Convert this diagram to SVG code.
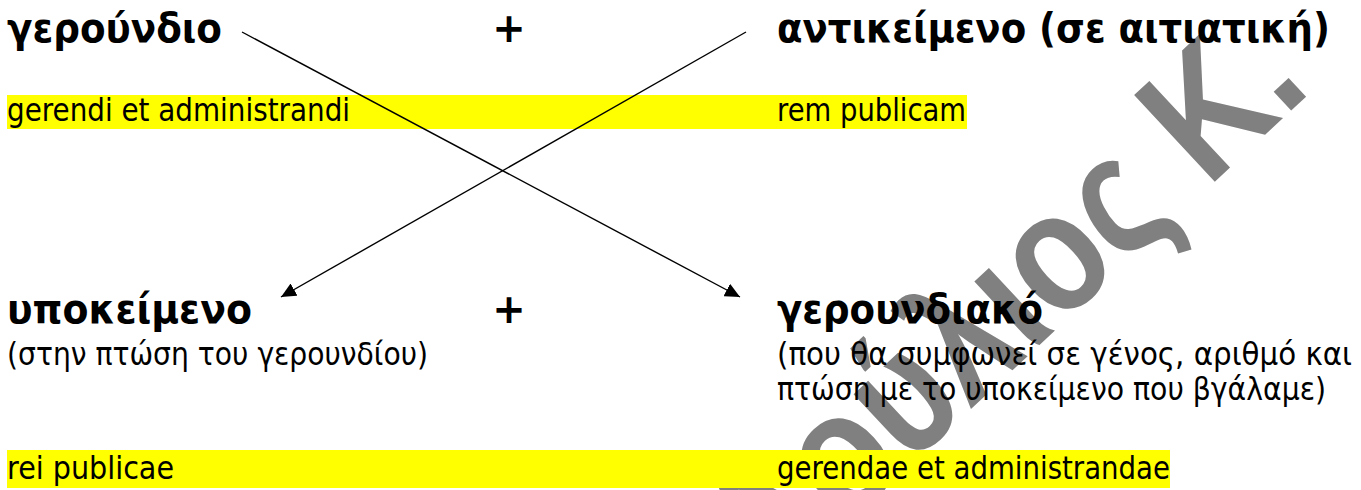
<svg xmlns="http://www.w3.org/2000/svg" width="1361" height="490" viewBox="0 0 1361 490">
<style>
.b{font-family:"DejaVu Sans","Liberation Sans",sans-serif;font-weight:bold;font-size:40px;fill:#000}
.n{font-family:"DejaVu Sans","Liberation Sans",sans-serif;font-size:32px;fill:#000}
.hl{fill:#ffff00}
.wm{font-family:"Liberation Sans",Arial,sans-serif;font-weight:bold;font-size:172px;fill:#808080}
.conn{stroke:#000;stroke-width:1.4;fill:none}
</style>
<defs>
<marker id="ah" viewBox="0 0 15 14" refX="15" refY="7" markerWidth="15" markerHeight="14" orient="auto" markerUnits="userSpaceOnUse">
<path d="M0,0 L15,7 L0,14 z" fill="#000"/>
</marker>
</defs>
<rect width="1361" height="490" fill="#fff"/>
<g id="watermark" transform="translate(1223,174) rotate(-43) scale(0.84,1)">
<text class="wm" x="-73" y="0" text-anchor="end">Δούλιος</text>
<text class="wm" x="-25" y="0">Κ.</text>
</g>
<g id="bands">
<rect class="hl" x="7" y="95" width="960" height="34"/>
<rect class="hl" x="7" y="450" width="1163" height="38"/>
</g>
<g id="n-gerundio"><text class="b" x="7" y="42" textLength="215" lengthAdjust="spacingAndGlyphs">γερούνδιο</text></g>
<g id="plus-top"><text class="b" x="509" y="42" text-anchor="middle">+</text></g>
<g id="n-antikeimeno"><text class="b" x="777" y="42" textLength="553" lengthAdjust="spacingAndGlyphs">αντικείμενο (σε αιτιατική)</text></g>
<g id="ex-gerendi"><text class="n" x="7" y="121" textLength="343" lengthAdjust="spacingAndGlyphs">gerendi et administrandi</text></g>
<g id="ex-rem"><text class="n" x="777" y="121" textLength="189" lengthAdjust="spacingAndGlyphs">rem publicam</text></g>
<g id="n-ypokeimeno">
<text class="b" x="7" y="323" textLength="245" lengthAdjust="spacingAndGlyphs">υποκείμενο</text>
<text class="n" x="7" y="365" textLength="421" lengthAdjust="spacingAndGlyphs">(στην πτώση του γερουνδίου)</text>
</g>
<g id="plus-bottom"><text class="b" x="509" y="323" text-anchor="middle">+</text></g>
<g id="n-gerundivo">
<text class="b" x="777" y="323" textLength="266" lengthAdjust="spacingAndGlyphs">γερουνδιακό</text>
<text class="n" x="777" y="365" textLength="575" lengthAdjust="spacingAndGlyphs">(που θα συμφωνεί σε γένος, αριθμό και</text>
<text class="n" x="777" y="400" textLength="549" lengthAdjust="spacingAndGlyphs">πτώση με το υποκείμενο που βγάλαμε)</text>
</g>
<g id="ex-rei"><text class="n" x="7" y="479" textLength="167" lengthAdjust="spacingAndGlyphs">rei publicae</text></g>
<g id="ex-gerendae"><text class="n" x="777" y="479" textLength="393" lengthAdjust="spacingAndGlyphs">gerendae et administrandae</text></g>
<g id="connectors">
<line class="conn" x1="242" y1="32" x2="740" y2="297" marker-end="url(#ah)"/>
<line class="conn" x1="746" y1="32" x2="281" y2="297" marker-end="url(#ah)"/>
</g>
</svg>
